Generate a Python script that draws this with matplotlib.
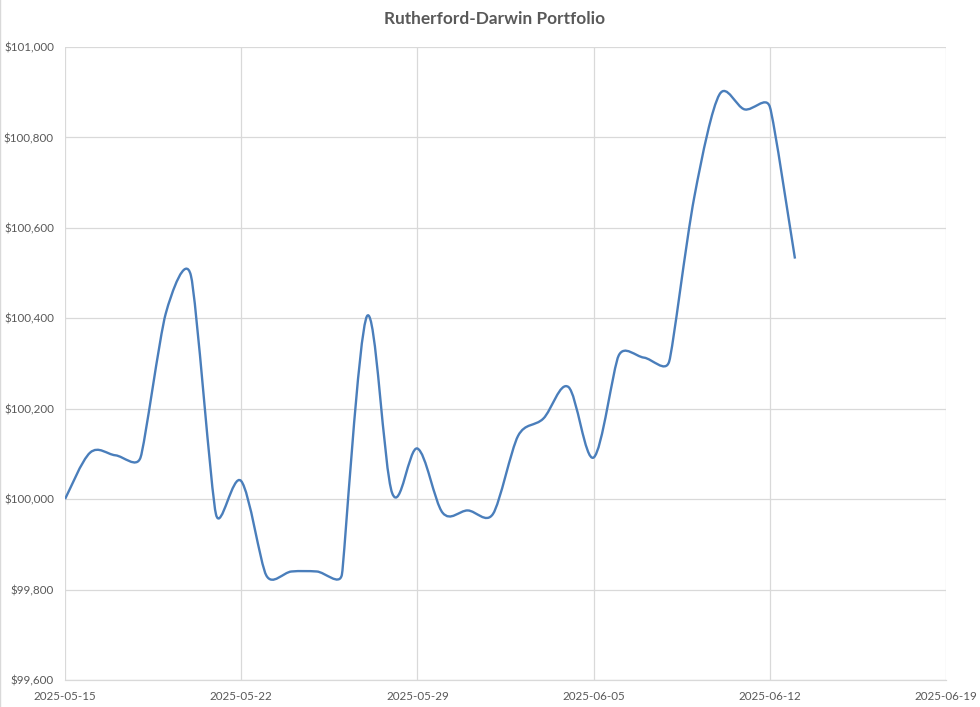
import matplotlib
matplotlib.use("Agg")
import matplotlib.pyplot as plt
import matplotlib.dates as mdates
from matplotlib.path import Path
from matplotlib.patches import PathPatch
from matplotlib.lines import Line2D
import numpy as np
import pandas as pd

# daily portfolio value
dates = pd.date_range("2025-05-15", "2025-06-13", freq="D")
values = [100000, 100103, 100097, 100092, 100410, 100495, 99966, 100040,
          99831, 99840, 99840, 99833, 100405, 100013, 100112, 99970,
          99975, 99967, 100140, 100178, 100248, 100092, 100318, 100313,
          100304, 100668, 100895, 100862, 100868, 100532]
xticks = pd.date_range("2025-05-15", "2025-06-19", freq="7D")
yticks = np.arange(99600, 101001, 200)

plt.rcParams['font.family'] = ['Lato', 'DejaVu Sans']
grey = "#595959"
grid = "#D9D9D9"

fig = plt.figure(figsize=(9.8, 7.07), dpi=100)
ax = fig.add_axes([65/980, 1-680/707, (946-65)/980, (680-47)/707])
ax.set_xlim(mdates.date2num(xticks[0]), mdates.date2num(xticks[-1]))
ax.set_ylim(99600, 101000)

# Excel-like smoothing in screen space: tangent along neighbours,
# handle length d02/6 capped at half of the shorter adjacent chord
x = mdates.date2num(dates)
pts = ax.transData.transform(np.column_stack([x, np.array(values, dtype=float)]))
n = len(pts)
tang = np.zeros_like(pts)
for i in range(n):
    a = pts[max(i - 1, 0)]
    b = pts[min(i + 1, n - 1)]
    d02 = np.hypot(*(b - a))
    if d02 == 0:
        continue
    caps = [d02 / 6]
    if i > 0:
        caps.append(np.hypot(*(pts[i] - pts[i - 1])) / 2)
    if i < n - 1:
        caps.append(np.hypot(*(pts[i + 1] - pts[i])) / 2)
    tang[i] = (b - a) / d02 * min(caps)
verts = [pts[0]]
codes = [Path.MOVETO]
for i in range(n - 1):
    verts += [pts[i] + tang[i], pts[i + 1] - tang[i + 1], pts[i + 1]]
    codes += [Path.CURVE4] * 3
verts = ax.transData.inverted().transform(np.array(verts))
ax.add_patch(PathPatch(Path(verts, codes), facecolor="none", edgecolor="#4A7EBB",
                       lw=1.7, capstyle="butt", joinstyle="round", zorder=3))

ax.set_xticks(mdates.date2num(xticks))
ax.set_xticklabels([d.strftime("%Y-%m-%d") for d in xticks])
ax.set_yticks(yticks)
ax.set_yticklabels(["${:,.0f}".format(v) for v in yticks])
ax.grid(True, color=grid, lw=0.9)
ax.set_axisbelow(True)
for s in ["top", "right", "left"]:
    ax.spines[s].set_visible(False)
ax.spines["bottom"].set_color(grid)
ax.spines["bottom"].set_linewidth(0.9)
ax.tick_params(length=0, colors=grey, labelsize=8.4)
ax.tick_params(axis="y", pad=8)
ax.tick_params(axis="x", pad=8)

fig.text(495/980, 1-19/707, "Rutherford-Darwin Portfolio", ha="center", va="center",
         fontsize=12.4, fontweight="bold", color=grey)
fig.add_artist(Line2D([0.0005, 0.0005], [0, 1], transform=fig.transFigure, color=grid, lw=1))

fig.savefig("out.png", dpi=100)
